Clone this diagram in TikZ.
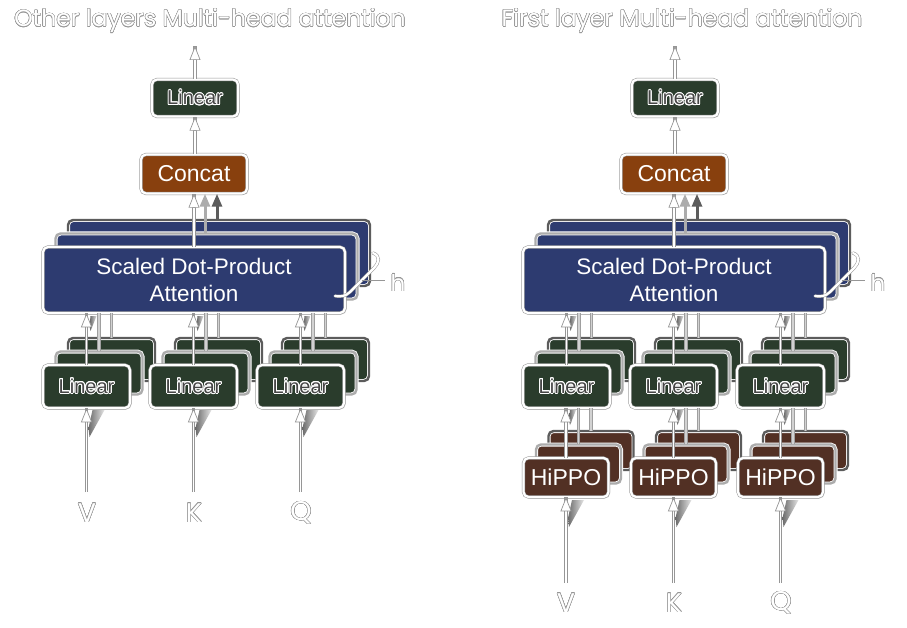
\documentclass[tikz,border=0pt]{standalone}
\usepackage{fontspec}
\setmainfont{Liberation Sans}
\newfontfamily\titlefont{Poppins}
\usepackage{contour}
\usetikzlibrary{arrows.meta,shadows}
\definecolor{navy}{RGB}{45,59,112}
\definecolor{lingreen}{RGB}{42,60,44}
\definecolor{concatbrown}{RGB}{136,64,14}
\definecolor{hippobrown}{RGB}{82,48,36}
\definecolor{edgegray}{RGB}{150,150,150}
\definecolor{midgray}{RGB}{172,172,172}
\definecolor{backgray}{RGB}{92,92,92}
\newcommand\outlinetxt[1]{\contourlength{0.45pt}\contour{edgegray}{\textcolor{white}{#1}}}
\newcommand\hollowlin[1]{\contourlength{0.9pt}\contour{white}{\textcolor{gray!55!black}{#1}}}
\newcommand\stackbox[8]{%
  \node[backbox,fill=#6,minimum width=#4pt,minimum height=#5pt] (#1b) at (#2+25,#3-27) {};
  \node[midbox,fill=#6,minimum width=#4pt,minimum height=#5pt] (#1m) at (#2+12.5,#3-13.5) {};
  \node[frontbox,fill=#6,minimum width=#4pt,minimum height=#5pt,#7] (#1) at (#2,#3) {#8};
}
\newcommand\wedgeat[3]{%
  \shade[left color=gray!85!black,right color=gray!20] (#1+6,#2) -- (#1+18,#2) -- (#1+3,#2+#3) -- (#1+2,#2+#3-9) -- cycle;
}
\newcommand\smallwedge[2]{%
  \shade[left color=gray!80!black,right color=gray!25] (#1+4,#2) -- (#1+10,#2) -- (#1+4,#2+15) -- (#1+3,#2+10) -- cycle;
}
\begin{document}
\begin{tikzpicture}[x=1pt,y=-1pt,
  frontbox/.style={rounded corners=5pt, draw=edgegray, double=white, double distance=2.2pt, line width=0.5pt, inner sep=0pt,
    drop shadow={opacity=0.35, shadow xshift=1.5pt, shadow yshift=-1.5pt}},
  midbox/.style={rounded corners=5pt, draw=white, double=midgray, double distance=2.4pt, line width=0.8pt, inner sep=0pt},
  backbox/.style={rounded corners=5pt, draw=white, double=backgray, double distance=2.4pt, line width=0.8pt, inner sep=0pt},
  harrow/.style={draw=white, line width=1.8pt,
    -{Triangle[width=11pt,length=14pt,fill=white,color=edgegray,line width=0.7pt]},
    preaction={draw=edgegray, line width=3.2pt, -}},
  marrow/.style={draw=midgray, line width=3pt, -{Triangle[width=10pt,length=13pt]}},
  darrow/.style={draw=backgray, line width=3pt, -{Triangle[width=10pt,length=13pt]}},
  glines/.style={draw=gray!75, double=gray!35, double distance=1.8pt, line width=0.9pt},
  bracket/.style={draw=edgegray, double=white, double distance=2.2pt, line width=0.5pt, line cap=round},
  titlestyle/.style={font=\titlefont\fontsize{23.5}{23.5}\selectfont, inner sep=0pt},
  inlabel/.style={font=\titlefont\fontsize{27}{27}\selectfont, inner sep=0pt},
  hlabel/.style={font=\titlefont\fontsize{23}{23}\selectfont, inner sep=1pt},
  lintext/.style={font=\fontsize{20}{20}\selectfont},
  bigtext/.style={font=\fontsize{23}{23}\selectfont, text=white},
  atttext/.style={font=\fontsize{22.5}{27}\selectfont, text=white, align=center}
]
\useasboundingbox (0,0) rectangle (907,628);
\fill[white] (0,0) rectangle (907,628);

% ================= LEFT PANEL =================
\node[titlestyle] (t1) at (210,21) {\outlinetxt{Other layers Multi-head attention}};

\node[frontbox, fill=lingreen, minimum width=86pt, minimum height=37pt, lintext] (ltopA) at (195,98) {\hollowlin{Linear}};
\coordinate (outA) at (195,46);
\draw[harrow] (ltopA.north) -- (outA);
\node[frontbox, fill=concatbrown, minimum width=106pt, minimum height=39pt, bigtext] (ccA) at (194,174) {Concat};
\draw[harrow] (ccA.north -| ltopA) -- (ltopA.south);

\stackbox{attA}{194}{280}{302}{66}{navy}{atttext}{Scaled Dot-Product\\Attention}
\draw[darrow] (attAb.north -| 217,0) -- (ccA.south -| 217,0);
\draw[marrow] (attAm.north -| 205,0) -- (ccA.south -| 205,0);
\draw[harrow] (attA.north -| ccA) -- (ccA.south);

% h bracket
\draw[bracket] (373,253) .. controls (381,256) and (379,263) .. (374,268) -- (350,292) .. controls (346,296) and (341,297) .. (335,296);
\node[hlabel] (hA) at (398,283) {\outlinetxt{h}};
\coordinate (hAs) at (362,280);
\coordinate (hAe) at (385,280);
\draw[edgegray, line width=0.8pt] (hAs) -- (hAe);

% Linear row
\stackbox{lA1}{86.5}{386.5}{87}{43}{lingreen}{lintext}{\hollowlin{Linear}}
\stackbox{lA2}{193.5}{386.5}{87}{43}{lingreen}{lintext}{\hollowlin{Linear}}
\stackbox{lA3}{300.5}{386.5}{87}{43}{lingreen}{lintext}{\hollowlin{Linear}}
\smallwedge{86.5}{316}
\smallwedge{193.5}{316}
\smallwedge{300.5}{316}
\foreach \s in {lA1,lA2,lA3}{
  \draw[glines] (\s b.north) -- (\s b.north |- attA.south);
  \draw[glines] (\s m.north) -- (\s m.north |- attA.south);
  \draw[harrow] (\s.north) -- (\s.north |- attA.south);
}
\wedgeat{86.5}{410}{27}
\wedgeat{193.5}{410}{27}
\wedgeat{300.5}{410}{27}
\coordinate (vAin) at (86.5,492);
\coordinate (kAin) at (193.5,492);
\coordinate (qAin) at (300.5,492);
\draw[harrow] (vAin) -- (lA1.south);
\draw[harrow] (kAin) -- (lA2.south);
\draw[harrow] (qAin) -- (lA3.south);
\node[inlabel] (vA) at (87,513) {\outlinetxt{V}};
\node[inlabel] (kA) at (194,513) {\outlinetxt{K}};
\node[inlabel] (qA) at (301,513) {\outlinetxt{Q}};

% ================= RIGHT PANEL =================
\node[titlestyle] (t2) at (682,21) {\outlinetxt{First layer Multi-head attention}};

\node[frontbox, fill=lingreen, minimum width=86pt, minimum height=37pt, lintext] (ltopB) at (675,98) {\hollowlin{Linear}};
\coordinate (outB) at (675,46);
\draw[harrow] (ltopB.north) -- (outB);
\node[frontbox, fill=concatbrown, minimum width=106pt, minimum height=39pt, bigtext] (ccB) at (674,174) {Concat};
\draw[harrow] (ccB.north -| ltopB) -- (ltopB.south);

\stackbox{attB}{674}{280}{302}{66}{navy}{atttext}{Scaled Dot-Product\\Attention}
\draw[darrow] (attBb.north -| 697,0) -- (ccB.south -| 697,0);
\draw[marrow] (attBm.north -| 685,0) -- (ccB.south -| 685,0);
\draw[harrow] (attB.north -| ccB) -- (ccB.south);

\draw[bracket] (853,253) .. controls (861,256) and (859,263) .. (854,268) -- (830,292) .. controls (826,296) and (821,297) .. (815,296);
\node[hlabel] (hB) at (878,283) {\outlinetxt{h}};
\coordinate (hBs) at (842,280);
\coordinate (hBe) at (865,280);
\draw[edgegray, line width=0.8pt] (hBs) -- (hBe);

\stackbox{lB1}{566.5}{386.5}{87}{43}{lingreen}{lintext}{\hollowlin{Linear}}
\stackbox{lB2}{673.5}{386.5}{87}{43}{lingreen}{lintext}{\hollowlin{Linear}}
\stackbox{lB3}{780.5}{386.5}{87}{43}{lingreen}{lintext}{\hollowlin{Linear}}
\smallwedge{566.5}{316}
\smallwedge{673.5}{316}
\smallwedge{780.5}{316}
\foreach \s in {lB1,lB2,lB3}{
  \draw[glines] (\s b.north) -- (\s b.north |- attB.south);
  \draw[glines] (\s m.north) -- (\s m.north |- attB.south);
  \draw[harrow] (\s.north) -- (\s.north |- attB.south);
}

\stackbox{hB1}{566}{477.5}{85}{39}{hippobrown}{bigtext}{HiPPO}
\stackbox{hB2}{673.5}{477.5}{85}{39}{hippobrown}{bigtext}{HiPPO}
\stackbox{hB3}{780.5}{477.5}{85}{39}{hippobrown}{bigtext}{HiPPO}
\smallwedge{566}{410}
\smallwedge{673.5}{410}
\smallwedge{780.5}{410}
\draw[glines] (hB1b.north) -- (hB1b.north |- lB1.south);
\draw[glines] (hB1m.north) -- (hB1m.north |- lB1.south);
\draw[harrow] (hB1.north) -- (hB1.north |- lB1.south);
\draw[glines] (hB2b.north) -- (hB2b.north |- lB2.south);
\draw[glines] (hB2m.north) -- (hB2m.north |- lB2.south);
\draw[harrow] (hB2.north) -- (hB2.north |- lB2.south);
\draw[glines] (hB3b.north) -- (hB3b.north |- lB3.south);
\draw[glines] (hB3m.north) -- (hB3m.north |- lB3.south);
\draw[harrow] (hB3.north) -- (hB3.north |- lB3.south);

\wedgeat{566}{500}{27}
\wedgeat{673.5}{500}{27}
\wedgeat{780.5}{500}{27}
\coordinate (vBin) at (566,583);
\coordinate (kBin) at (673.5,583);
\coordinate (qBin) at (780.5,583);
\draw[harrow] (vBin) -- (hB1.south);
\draw[harrow] (kBin) -- (hB2.south);
\draw[harrow] (qBin) -- (hB3.south);
\node[inlabel] (vB) at (566,603) {\outlinetxt{V}};
\node[inlabel] (kB) at (674,603) {\outlinetxt{K}};
\node[inlabel] (qB) at (781,603) {\outlinetxt{Q}};
\end{tikzpicture}
\end{document}
